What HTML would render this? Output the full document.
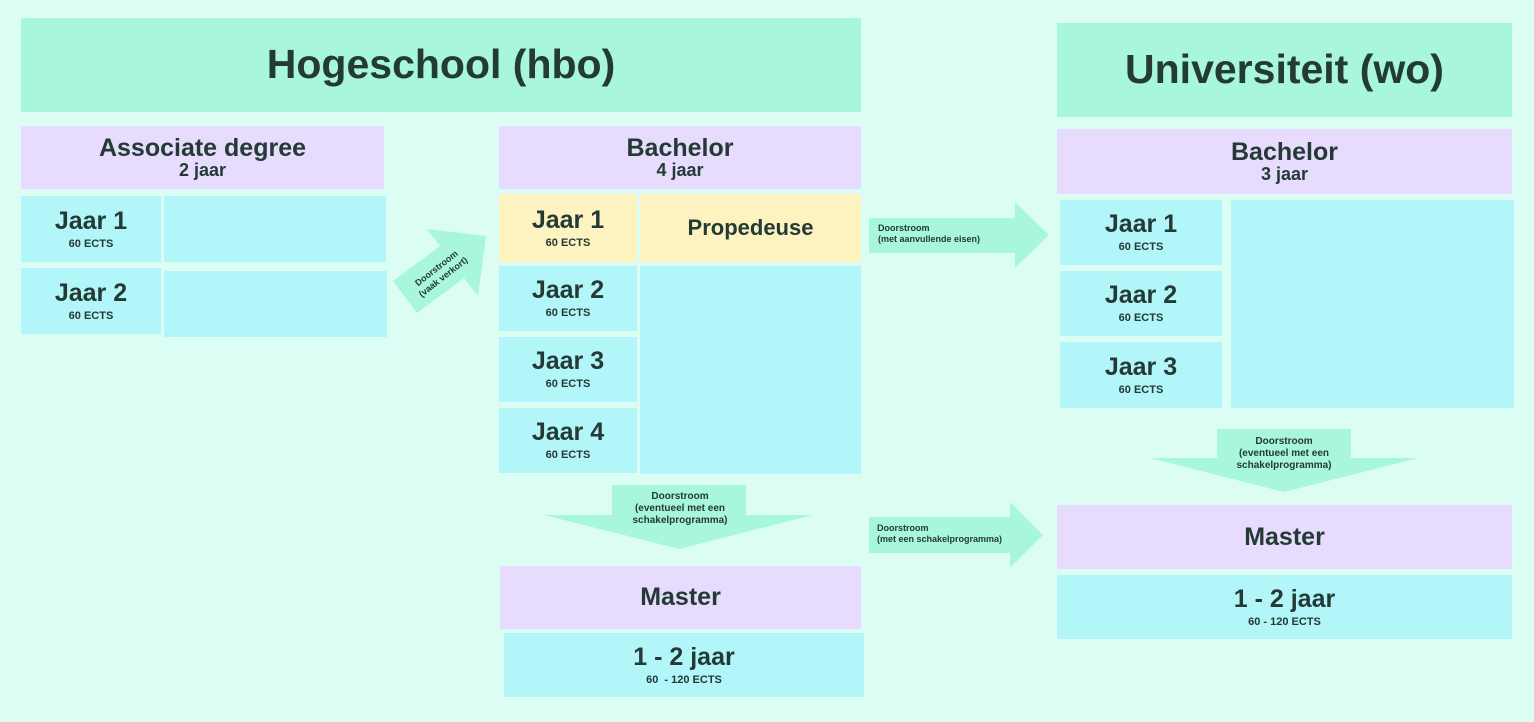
<!DOCTYPE html>
<html><head><meta charset="utf-8"><style>
body{margin:0;width:1534px;height:722px;background:#dcfdf3;position:relative;overflow:hidden;font-family:"Liberation Sans",sans-serif;color:#233a35;font-weight:bold}
.b{position:absolute;display:flex;flex-direction:column;align-items:center;justify-content:center;text-align:center;line-height:1.05}
.g{background:#a8f6de}.p{background:#e8dcfe}.c{background:#b2f6fa}.y{background:#fdf3c1}
.t{font-size:41px}.h{font-size:25px}.s{font-size:18px}.j{font-size:25px}.e{font-size:11px;margin-top:5px}
.a{position:absolute;font-size:10px;line-height:1.2}
svg{position:absolute;left:0;top:0}
</style></head><body>
<svg width="1534" height="722">
<g fill="#a8f6de">
<polygon points="612,485 746,485 746,515 813,515 679,549 544,515 612,515"/>
<polygon points="1217,429 1351,429 1351,458 1418,458 1284,492 1150,458 1217,458"/>
<polygon points="869,218 1015,218 1015,202 1049,235 1015,268 1015,253 869,253"/>
<polygon points="869,517 1010,517 1010,502 1043,535 1010,568 1010,553 869,553"/>
<polygon points="393,281 440,246 427,229 486,236 478,296 464,278 417,313"/>
</g></svg>
<div class="b g t" style="left:21px;top:18px;width:840px;height:94px">Hogeschool (hbo)</div>
<div class="b g t" style="left:1057px;top:23px;width:455px;height:94px">Universiteit (wo)</div>

<div class="b p" style="left:21px;top:126px;width:363px;height:63px"><div class="h">Associate degree</div><div class="s">2 jaar</div></div>
<div class="b c" style="left:21px;top:196px;width:140px;height:66px"><div class="j">Jaar 1</div><div class="e">60 ECTS</div></div>
<div class="b c" style="left:164px;top:196px;width:222px;height:66px"></div>
<div class="b c" style="left:21px;top:268px;width:140px;height:66px"><div class="j">Jaar 2</div><div class="e">60 ECTS</div></div>
<div class="b c" style="left:164px;top:271px;width:223px;height:66px"></div>

<div class="b p" style="left:499px;top:126px;width:362px;height:63px"><div class="h">Bachelor</div><div class="s">4 jaar</div></div>
<div class="b y" style="left:499px;top:194px;width:138px;height:68px"><div class="j">Jaar 1</div><div class="e">60 ECTS</div></div>
<div class="b y" style="left:640px;top:194px;width:221px;height:68px"><div style="font-size:22px">Propedeuse</div></div>
<div class="b c" style="left:499px;top:266px;width:138px;height:65px"><div class="j">Jaar 2</div><div class="e">60 ECTS</div></div>
<div class="b c" style="left:499px;top:337px;width:138px;height:65px"><div class="j">Jaar 3</div><div class="e">60 ECTS</div></div>
<div class="b c" style="left:499px;top:408px;width:138px;height:65px"><div class="j">Jaar 4</div><div class="e">60 ECTS</div></div>
<div class="b c" style="left:640px;top:266px;width:221px;height:208px"></div>
<div class="b p" style="left:500px;top:566px;width:361px;height:63px"><div class="h">Master</div></div>
<div class="b c" style="left:504px;top:633px;width:360px;height:64px"><div class="j">1 - 2 jaar</div><div class="e">60 &nbsp;- 120 ECTS</div></div>

<div class="b p" style="left:1057px;top:129px;width:455px;height:65px"><div class="h">Bachelor</div><div class="s">3 jaar</div></div>
<div class="b c" style="left:1060px;top:200px;width:162px;height:65px"><div class="j">Jaar 1</div><div class="e">60 ECTS</div></div>
<div class="b c" style="left:1060px;top:271px;width:162px;height:65px"><div class="j">Jaar 2</div><div class="e">60 ECTS</div></div>
<div class="b c" style="left:1060px;top:342px;width:162px;height:66px"><div class="j">Jaar 3</div><div class="e">60 ECTS</div></div>
<div class="b c" style="left:1231px;top:200px;width:283px;height:208px"></div>
<div class="b p" style="left:1057px;top:505px;width:455px;height:64px"><div class="h">Master</div></div>
<div class="b c" style="left:1057px;top:575px;width:455px;height:64px"><div class="j">1 - 2 jaar</div><div class="e">60 - 120 ECTS</div></div>

<div class="a" style="left:560px;top:491px;width:240px;text-align:center">Doorstroom<br>(eventueel met een<br>schakelprogramma)</div>
<div class="a" style="left:1164px;top:436px;width:240px;text-align:center">Doorstroom<br>(eventueel met een<br>schakelprogramma)</div>
<div class="a" style="left:878px;top:223px;font-size:9px">Doorstroom<br>(met aanvullende eisen)</div>
<div class="a" style="left:877px;top:523px;font-size:9px">Doorstroom<br>(met een schakelprogramma)</div>
<div class="a" style="left:395px;top:262px;width:90px;text-align:center;font-size:9px;transform:rotate(-38deg)">Doorstroom<br>(vaak verkort)</div>
</body></html>
